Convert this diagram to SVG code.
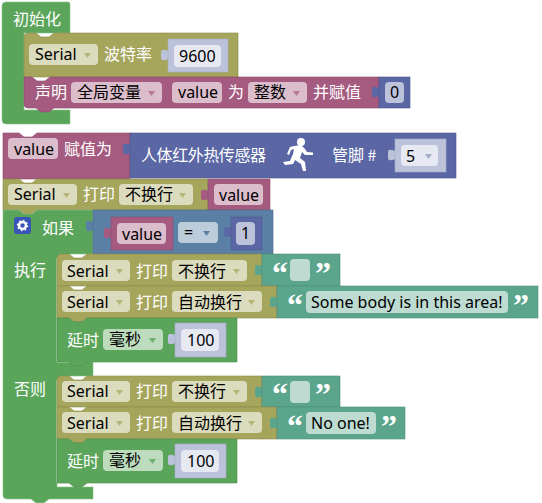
<svg xmlns="http://www.w3.org/2000/svg" width="542" height="503" viewBox="0 0 542 503">
<style>
text{font-family:"Noto Sans CJK SC","Noto Sans",sans-serif;font-size:16px;fill:#000}
.w{fill:#fff}
.lat{font-family:"Noto Sans",sans-serif}
.q{font-family:"Liberation Serif",serif;font-weight:bold;font-size:32px;fill:#fff}
.g{fill:#5BA55B;stroke:#8CC08C;stroke-width:.6}
.o{fill:#A5A55B;stroke:#8C8C4D;stroke-width:.6}
.p{fill:#A55B80;stroke:#8C4D6D;stroke-width:.6}
.b{fill:#5B67A5;stroke:#4D588C;stroke-width:.6}
.s{fill:#5B80A5;stroke:#4D6D8C;stroke-width:.6}
.t{fill:#5BA58C;stroke:#4D8C77;stroke-width:.6}
.sh{fill:#BDC2DB;stroke:#A5ABC8;stroke-width:.6}
.fo{fill:#DBDBBD}.fp{fill:#DBBDCC}.fb{fill:#BDC2DB}.fs{fill:#BDCCDB}.ft{fill:#BDDBD1}.fg{fill:#BDDBBD}.fw{fill:#E6E8F2}
.ao{fill:#A5A55B;opacity:.7}.ap{fill:#A55B80;opacity:.7}.ab{fill:#A5ABC8}.as{fill:#5B80A5}.ag{fill:#5BA55B;opacity:.8}
</style>
<defs>
<path id="tab" style="stroke:none" d="M1 0v4l-4-1q-4-1-4 2v6q0 3 4 2l4-1v5z"/>
</defs>

<g id="connectors"></g>

<g id="init">
<path class="g" d="M2 6q0-4 4-4h62q2 0 2 2v29H24v77h46v14H6q-4 0-4-4z"/>
<text class="w" x="13" y="25">初始化</text>
</g>

<g id="baud">
<path class="o" d="M24 37q0-4 4-4h8l5 4h8l5-4h184v44H24z"/>
<rect class="fo" x="29" y="44" width="69" height="21" rx="4"/>
<text class="lat" x="35" y="60">Serial</text>
<path class="ao" d="M84 53h7l-3.500 5z"/>
<text class="w" x="104" y="60">波特率</text>
<use href="#tab" x="168" y="47" class="sh"/>
<rect class="sh" x="168" y="39" width="60" height="33"/>
<rect class="fw" x="174" y="45" width="47" height="22" rx="4"/>
<text class="lat" x="179" y="62">9600</text>
</g>

<g id="declare">
<path class="p" d="M24 77h8l5 4h8l5-4h329v31H54l-5 4h-8l-5-4H28q-4 0-4-4z"/>
<text class="w" x="35" y="98">声明</text>
<rect class="fp" x="71" y="82" width="91" height="21" rx="4"/>
<text x="77" y="98">全局变量</text>
<path class="ap" d="M148 91h7l-3.500 5z"/>
<rect class="fp" x="172" y="82" width="50" height="21" rx="4"/>
<text class="lat" x="178" y="98">value</text>
<text class="w" x="228" y="98">为</text>
<rect class="fp" x="248" y="82" width="59" height="21" rx="4"/>
<text x="254" y="98">整数</text>
<path class="ap" d="M293 91h7l-3.500 5z"/>
<text class="w" x="313" y="98">并赋值</text>
<use href="#tab" x="379" y="84" class="b"/>
<rect class="b" x="379" y="77" width="31" height="31"/>
<rect class="fb" x="385" y="82" width="19" height="21" rx="4"/>
<text class="lat" x="390" y="98">0</text>
</g>

<g id="assign">
<path class="p" d="M3 133h16l5 4h8l5-4h93v46H3z"/>
<rect class="fp" x="8" y="138" width="50" height="21" rx="4"/>
<text class="lat" x="14" y="155">value</text>
<text class="w" x="64" y="155">赋值为</text>
</g>

<g id="sensor">
<use href="#tab" x="130" y="141" class="b"/>
<rect class="b" x="130" y="133" width="326" height="45"/>
<text class="w" x="141" y="161" textLength="125">人体红外热传感器</text>
<g fill="#fff">
<circle cx="301" cy="142" r="4"/>
<path d="M294 146l7-1 4 4 2 3 6 .5v2.500l-8 0-3-3-2 6 5 4 1 9h-3l-2-7-6-4-2 4-8 1-2-3 7-1 3-7 1-5-3 1-2 5-2-1 3-7z"/>
</g>
<text class="w" x="332" y="161">管脚 #</text>
<use href="#tab" x="395" y="147" class="sh"/>
<rect class="sh" x="395" y="139" width="51" height="33"/>
<rect class="fw" x="401" y="145" width="37" height="21" rx="4"/>
<text class="lat" x="406" y="162">5</text>
<path class="ab" d="M425 154h7l-3.500 5z"/>
</g>

<g id="printValue">
<path class="o" d="M3 179h16l5 4h8l5-4h171v31H37l-5 4h-8l-5-4H3z"/>
<rect class="fo" x="8" y="184" width="69" height="21" rx="4"/>
<text class="lat" x="14" y="200">Serial</text>
<path class="ao" d="M63 193h7l-3.500 5z"/>
<text class="w" x="83" y="200">打印</text>
<rect class="fo" x="119" y="184" width="74" height="21" rx="4"/>
<text x="125" y="200">不换行</text>
<path class="ao" d="M179 193h7l-3.500 5z"/>
<use href="#tab" x="208" y="187" class="p"/>
<rect class="p" x="208" y="179" width="62" height="31"/>
<rect class="fp" x="214" y="184" width="49" height="21" rx="4"/>
<text class="lat" x="219" y="201">value</text>
</g>

<g id="ifElse">
<path class="g" d="M3 210h16l5 4h8l5-4h56v44H70l-5 4h-8v104h36v14H70l-5 4h-8v107h36v12H49l-5 4h-8l-5-4H7q-4 0-4-4z"/>
<path fill="none" stroke="#D5E8D5" stroke-width="1" d="M57 258v104h12M57 380v103h12"/>
<rect x="14" y="217" width="17" height="17" rx="3" fill="#3A55B8"/>
<circle cx="22.500" cy="225.500" r="3.500" fill="none" stroke="#fff" stroke-width="2.500"/>
<circle cx="22.500" cy="225.500" r="5" fill="none" stroke="#fff" stroke-width="1.500" stroke-dasharray="1.500 2.400"/>
<text class="w" x="42" y="234">如果</text>
<text class="w" x="14" y="276">执行</text>
<text class="w" x="14" y="395">否则</text>
</g>

<g id="condition">
<use href="#tab" x="93" y="218" class="s"/>
<rect class="s" x="93" y="210" width="180" height="44"/>
<use href="#tab" x="111" y="225" class="p"/>
<rect class="p" x="111" y="217" width="62" height="33"/>
<rect class="fp" x="117" y="223" width="49" height="21" rx="4"/>
<text class="lat" x="122" y="240">value</text>
<rect class="fs" x="178" y="222" width="40" height="21" rx="4"/>
<text class="lat" x="184" y="238">=</text>
<path class="as" d="M203 231h7l-3.500 5z"/>
<use href="#tab" x="231" y="224" class="b"/>
<rect class="b" x="231" y="217" width="31" height="33"/>
<rect class="fb" x="236" y="222" width="19" height="23" rx="4"/>
<text class="lat" x="241" y="239">1</text>
</g>

<g id="print1">
<path class="o" d="M57 258q0-4 4-4h8l5 4h8l5-4h175v32H57z"/>
<rect class="fo" x="62" y="260" width="68" height="21" rx="4"/>
<text class="lat" x="67" y="277">Serial</text>
<path class="ao" d="M116 269h7l-3.500 5z"/>
<text class="w" x="136" y="277">打印</text>
<rect class="fo" x="172" y="260" width="75" height="21" rx="4"/>
<text x="178" y="277">不换行</text>
<path class="ao" d="M233 269h7l-3.500 5z"/>
<use href="#tab" x="262" y="262" class="t"/>
<rect class="t" x="262" y="254" width="78" height="32"/>
<text class="q" x="272" y="284">“</text>
<rect class="ft" x="290" y="259" width="20" height="22" rx="4"/>
<text class="q" x="315" y="284">”</text>
</g>

<g id="print2">
<path class="o" d="M57 286h12l5 4h8l5-4h190v32H87l-5 4h-8l-5-4H57z"/>
<rect class="fo" x="62" y="291" width="68" height="21" rx="4"/>
<text class="lat" x="67" y="308">Serial</text>
<path class="ao" d="M116 300h7l-3.500 5z"/>
<text class="w" x="136" y="308">打印</text>
<rect class="fo" x="172" y="291" width="90" height="21" rx="4"/>
<text x="178" y="308">自动换行</text>
<path class="ao" d="M248 300h7l-3.500 5z"/>
<use href="#tab" x="277" y="294" class="t"/>
<rect class="t" x="277" y="286" width="261" height="32"/>
<text class="q" x="287" y="316">“</text>
<rect class="ft" x="306" y="291" width="202" height="22" rx="4"/>
<text class="lat" x="311" y="308">Some body is in this area!</text>
<text class="q" x="513" y="316">”</text>
</g>

<g id="delay1">
<path class="g" style="stroke:#4D8C4D" d="M57 318h12l5 4h8l5-4h150v44H87l-5 4h-8l-5-4H57z"/>
<text class="w" x="67" y="346">延时</text>
<rect class="fg" x="103" y="329" width="60" height="21" rx="4"/>
<text x="109" y="345">毫秒</text>
<path class="ag" d="M149 338h7l-3.500 5z"/>
<use href="#tab" x="175" y="331" class="sh"/>
<rect class="sh" x="175" y="323" width="51" height="34"/>
<rect class="fw" x="181" y="329" width="38" height="22" rx="4"/>
<text class="lat" x="187" y="346">100</text>
</g>

<g id="print3">
<path class="o" d="M57 380q0-4 4-4h8l5 4h8l5-4h175v31H57z"/>
<rect class="fo" x="62" y="381" width="68" height="21" rx="4"/>
<text class="lat" x="67" y="397">Serial</text>
<path class="ao" d="M116 390h7l-3.500 5z"/>
<text class="w" x="136" y="397">打印</text>
<rect class="fo" x="172" y="381" width="75" height="21" rx="4"/>
<text x="178" y="397">不换行</text>
<path class="ao" d="M233 390h7l-3.500 5z"/>
<use href="#tab" x="262" y="384" class="t"/>
<rect class="t" x="262" y="376" width="78" height="31"/>
<text class="q" x="272" y="405">“</text>
<rect class="ft" x="290" y="381" width="20" height="22" rx="4"/>
<text class="q" x="315" y="405">”</text>
</g>

<g id="print4">
<path class="o" d="M57 407h12l5 4h8l5-4h190v32H87l-5 4h-8l-5-4H57z"/>
<rect class="fo" x="62" y="412" width="68" height="21" rx="4"/>
<text class="lat" x="67" y="429">Serial</text>
<path class="ao" d="M116 421h7l-3.500 5z"/>
<text class="w" x="136" y="429">打印</text>
<rect class="fo" x="172" y="412" width="90" height="21" rx="4"/>
<text x="178" y="429">自动换行</text>
<path class="ao" d="M248 421h7l-3.500 5z"/>
<use href="#tab" x="277" y="415" class="t"/>
<rect class="t" x="277" y="407" width="128" height="32"/>
<text class="q" x="287" y="437">“</text>
<rect class="ft" x="306" y="412" width="70" height="22" rx="4"/>
<text class="lat" x="311" y="429">No one!</text>
<text class="q" x="381" y="437">”</text>
</g>

<g id="delay2">
<path class="g" style="stroke:#4D8C4D" d="M57 439h12l5 4h8l5-4h150v44H87l-5 4h-8l-5-4H57z"/>
<text class="w" x="67" y="467">延时</text>
<rect class="fg" x="103" y="450" width="60" height="21" rx="4"/>
<text x="109" y="466">毫秒</text>
<path class="ag" d="M149 459h7l-3.500 5z"/>
<use href="#tab" x="175" y="452" class="sh"/>
<rect class="sh" x="175" y="444" width="51" height="34"/>
<rect class="fw" x="181" y="450" width="38" height="22" rx="4"/>
<text class="lat" x="187" y="467">100</text>
</g>
</svg>
